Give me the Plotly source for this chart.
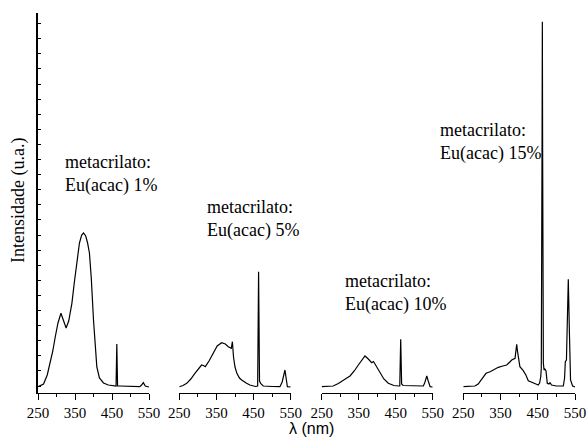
import plotly.graph_objects as go

# ---- data (wavelength nm, intensity a.u.) ----
wl1 = [250, 265, 275, 283, 290, 296.6, 304, 312, 319, 326, 333, 341.6, 348, 355, 362, 368, 373, 379, 384, 389, 394, 400, 405, 409, 416, 427, 440, 458, 461, 463, 465, 470, 500, 525, 530, 534.6, 540, 550]
int1 = [6.3, 9, 18, 29.7, 42, 56, 70, 79.7, 73, 65, 72, 89.7, 110, 133, 150, 158, 160, 157, 150, 140, 115, 73, 45, 26, 15, 10, 8, 7, 7, 49, 7, 7, 6.5, 6.3, 8, 10.3, 7, 6]

wl2 = [250, 260, 270, 281, 292, 302, 310, 315, 320, 330, 341.6, 352, 364, 374, 382, 390, 393, 396, 400, 405, 412, 418, 430, 440, 455, 461, 463.5, 466, 469, 476, 500, 521, 527, 531, 534.6, 538, 541, 550]
int2 = [6.3, 7.5, 9.7, 14, 19.7, 25, 28, 27.5, 26.3, 32, 39.7, 47, 50.3, 49, 46.3, 44.7, 51.3, 36, 26, 19.7, 15, 13, 10, 8, 6.5, 7, 121.3, 12, 9.7, 7, 6.5, 6.3, 11, 18, 23, 14, 6.3, 6]

wl3 = [250, 270, 281, 295, 308, 318, 326.5, 338, 349, 358, 367, 376, 385, 390, 394, 400, 407.6, 418, 430, 445, 458, 461, 463.5, 466, 470, 500, 524.6, 528, 531, 534, 538, 543, 550]
int3 = [6.3, 6.5, 7, 9.5, 13, 15, 17, 22, 28, 33, 37, 34, 30.3, 31.5, 29, 25, 19.7, 14, 9.7, 7.5, 7, 7, 53.7, 9, 7.5, 7, 7, 9.7, 14, 17, 12, 6.3, 6]

wl4 = [250, 270, 281, 290, 295, 303, 311, 322, 333, 344, 356, 366.6, 375, 380, 389, 391.5, 393.4, 395.5, 397, 402, 411, 418, 424.6, 431, 438, 445, 451, 455, 458, 459.5, 461.5, 462.3, 463, 465, 466.8, 469, 472, 475.5, 480, 483, 487, 500, 518.6, 522, 524, 527, 529.5, 532, 535, 538, 543.6, 550]
int4 = [6.3, 6.5, 7, 9, 11.3, 15.5, 19.7, 21.3, 23.5, 25.7, 27, 28, 31, 33, 34.7, 42, 48.7, 42, 38, 26.3, 22.3, 18, 12.3, 11, 9.7, 9, 8, 10, 16.3, 25, 250, 371.3, 250, 30, 23, 24, 22.3, 9.7, 9, 10.3, 8, 7, 7, 15, 31.3, 33, 75, 113.7, 60, 13, 7, 6]

labels = ["metacrilato:<br>Eu(acac) 1%", "metacrilato:<br>Eu(acac) 5%",
          "metacrilato:<br>Eu(acac) 10%", "metacrilato:<br>Eu(acac) 15%"]
tick_vals = [250, 350, 450, 550]
tick_text = ["250", "350", "450", "550"]

W, H = 587, 439
ML, MR, MT, MB = 38, 12, 13, 46
PW, PH = W - ML - MR, H - MT - MB

def px2x(p):
    return (p - ML) / PW

def px2y(p):
    return (H - MB - p) / PH

panels = [(37.7, 149.0), (179.3, 290.7), (321.7, 432.7), (463.3, 575.0)]
series = [(wl1, int1), (wl2, int2), (wl3, int3), (wl4, int4)]

fig = go.Figure()
serif = "'Liberation Serif', 'Times New Roman', serif"

for i, ((wl, it), (a, b)) in enumerate(zip(series, panels)):
    xa = "x" if i == 0 else f"x{i+1}"
    fig.add_trace(go.Scatter(x=wl, y=it, mode="lines", xaxis=xa, yaxis="y",
                             line=dict(color="black", width=1.2), showlegend=False,
                             hoverinfo="skip"))
    key = "xaxis" if i == 0 else f"xaxis{i+1}"
    fig.layout[key] = dict(
        domain=[max(0, px2x(a)), min(1, px2x(b))], anchor="y", range=[250, 550],
        showline=True, linecolor="black", linewidth=1.2, showgrid=False, zeroline=False,
        ticks="outside", ticklen=6, tickwidth=1, tickcolor="black",
        tickvals=tick_vals, ticktext=tick_text, automargin=False,
        tickfont=dict(family=serif, size=15, color="black"),
        minor=dict(ticks="outside", ticklen=3, tickvals=[300, 400, 500], tickcolor="black", tickwidth=1),
    )

fig.update_layout(
    width=W, height=H, margin=dict(l=ML, r=MR, t=MT, b=MB),
    paper_bgcolor="white", plot_bgcolor="white",
    font=dict(family=serif, color="black"),
    yaxis=dict(domain=[0, 1], anchor="x", range=[0, PH], showline=True, linecolor="black",
               linewidth=1.5, showgrid=False, zeroline=False, ticks="inside", ticklen=3,
               tickcolor="black", tick0=7, dtick=15.1, showticklabels=False, automargin=False),
)

ann_pos = [(63.3, 174), (205, 219), (343.3, 293), (438.3, 142)]
for txt, (xp, yp) in zip(labels, ann_pos):
    fig.add_annotation(text=txt, xref="paper", yref="paper", x=px2x(xp), y=px2y(yp),
                       xanchor="left", yanchor="middle", align="left", showarrow=False,
                       font=dict(family=serif, size=18, color="black"))

fig.add_annotation(text="Intensidade (u.a.)", xref="paper", yref="paper",
                   x=px2x(18), y=px2y(201), xanchor="center", yanchor="middle",
                   textangle=-90, showarrow=False,
                   font=dict(family=serif, size=18, color="black"))
fig.add_annotation(text="λ (nm)", xref="paper", yref="paper",
                   x=px2x(311), y=px2y(428.5), xanchor="center", yanchor="middle",
                   showarrow=False,
                   font=dict(family="'Liberation Sans', Arial, sans-serif", size=16, color="black"))

fig.write_html("out.html", config={"displayModeBar": False},
               post_script="document.body.style.margin='0';document.body.style.padding='0';")
